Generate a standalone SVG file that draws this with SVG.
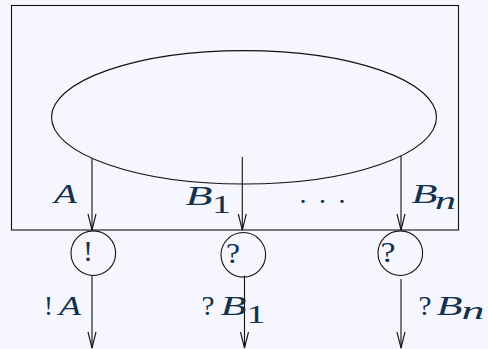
<svg xmlns="http://www.w3.org/2000/svg" width="488" height="349" viewBox="0 0 488 349">
  <defs>
    <style>
      .ln { fill: none; stroke: #111; stroke-width: 1.1; }
      .lbl { font-family: "Liberation Serif", "Times New Roman", serif; font-size: 28px; fill: #12324f; }
      .it { font-style: italic; }
      .sub { font-size: 25px; }
      .op { font-size: 30px; }
    </style>
    <marker id="arr" markerUnits="userSpaceOnUse" markerWidth="20" markerHeight="12" viewBox="-17 -6 19 12" refX="0" refY="0" orient="auto">
      <path d="M -16 -4 Q -6 -1.5 0 0 Q -6 1.5 -16 4" fill="none" stroke="#111" stroke-width="1.1"/>
    </marker>
  </defs>
  <rect width="488" height="349" fill="#f5f6fe"/>

  <g id="system">
    <rect class="ln" x="11.5" y="5.5" width="447" height="224.5"/>
  </g>
  <g id="core">
    <ellipse class="ln" cx="244" cy="117.3" rx="192.5" ry="66.7"/>
  </g>
  <g id="node-out">
    <circle class="ln" cx="93.3" cy="253.2" r="22.3"/>
    <text class="lbl op" x="83" y="260.5" textLength="10" lengthAdjust="spacingAndGlyphs">!</text>
  </g>
  <g id="node-in1">
    <circle class="ln" cx="243.3" cy="254.8" r="22.3"/>
    <text class="lbl op" x="226" y="262.5" textLength="14" lengthAdjust="spacingAndGlyphs">?</text>
  </g>
  <g id="node-inn">
    <circle class="ln" cx="400.3" cy="253.2" r="22.3"/>
    <text class="lbl op" x="380.5" y="262" textLength="15" lengthAdjust="spacingAndGlyphs">?</text>
  </g>

  <g id="connectors">
    <line class="ln" x1="92" y1="158.2" x2="92" y2="230" marker-end="url(#arr)"/>
    <line class="ln" x1="242.3" y1="157" x2="242.3" y2="230" marker-end="url(#arr)"/>
    <line class="ln" x1="401" y1="155.5" x2="401" y2="230" marker-end="url(#arr)"/>
    <line class="ln" x1="92" y1="275.6" x2="92" y2="348" marker-end="url(#arr)"/>
    <line class="ln" x1="244.5" y1="275.5" x2="244.5" y2="348" marker-end="url(#arr)"/>
    <line class="ln" x1="401" y1="279" x2="401" y2="348" marker-end="url(#arr)"/>
  </g>

  <g id="labels">
    <text class="lbl it" x="54" y="203.3" textLength="23" lengthAdjust="spacingAndGlyphs">A</text>
    <text class="lbl"><tspan class="it" x="185.5" y="205" textLength="27" lengthAdjust="spacingAndGlyphs">B</tspan><tspan class="sub" x="212" y="213.3" textLength="19" lengthAdjust="spacingAndGlyphs">1</tspan></text>
    <text class="lbl" x="299.5 319 338.5" y="203">...</text>
    <text class="lbl"><tspan class="it" x="411.5" y="202.7" textLength="26" lengthAdjust="spacingAndGlyphs">B</tspan><tspan class="sub it" x="435" y="208.5" textLength="21" lengthAdjust="spacingAndGlyphs">n</tspan></text>
    <text class="lbl"><tspan x="44" y="315" textLength="9" lengthAdjust="spacingAndGlyphs">!</tspan><tspan class="it" x="59" y="315" textLength="22" lengthAdjust="spacingAndGlyphs">A</tspan></text>
    <text class="lbl"><tspan x="201.5" y="315" textLength="13" lengthAdjust="spacingAndGlyphs">?</tspan><tspan class="it" x="220.5" y="315" textLength="26" lengthAdjust="spacingAndGlyphs">B</tspan><tspan class="sub" x="246.5" y="323.3" textLength="19" lengthAdjust="spacingAndGlyphs">1</tspan></text>
    <text class="lbl"><tspan x="418.5" y="315" textLength="13" lengthAdjust="spacingAndGlyphs">?</tspan><tspan class="it" x="436.5" y="315" textLength="26" lengthAdjust="spacingAndGlyphs">B</tspan><tspan class="sub it" x="461.5" y="318.5" textLength="23" lengthAdjust="spacingAndGlyphs">n</tspan></text>
  </g>
</svg>
